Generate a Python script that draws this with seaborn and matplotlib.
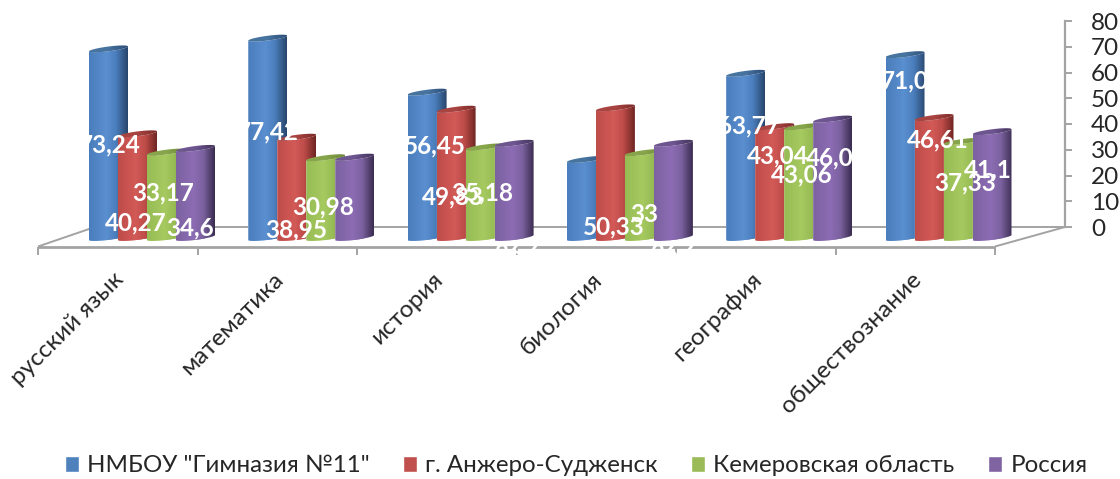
import numpy as np
import pandas as pd
import matplotlib
matplotlib.use("Agg")
import matplotlib.pyplot as plt
from matplotlib.colors import LinearSegmentedColormap
from matplotlib.path import Path
import seaborn as sns

# --- Data ---
subjects = ["русский язык", "математика", "история", "биология", "география", "обществознание"]
series_names = ['НМБОУ "Гимназия №11"', "г. Анжеро-Судженск", "Кемеровская область", "Россия"]
gymnasium = [73.24, 77.42, 56.45, 30.3, 63.77, 71.0]
town = [40.27, 38.95, 49.83, 50.33, 43.04, 46.61]
region = [33.17, 30.98, 35.18, 33, 43.06, 37.33]
russia = [34.6, 31.2, 36.6, 36.6, 46.0, 41.1]

# value labels as they read in the picture, with where the chart left them (px, px)
label_text = ["73,24", "40,27", "33,17", "34,6",
              "77,42", "38,95", "30,98",
              "56,45", "49,83", "35,18", "36,6",
              "50,33", "33", "36,6",
              "63,77", "43,04", "43,06", "46,0",
              "71,0", "46,61", "37,33", "41,1"]
label_xy = [(110, 145), (136, 223), (163, 193), (190, 228),
            (268, 132), (296, 230), (323, 207),
            (435, 146), (453, 197), (482, 193), (518, 254),
            (614, 227), (644, 215), (674, 254),
            (749, 126), (778, 156), (802, 175), (830, 158),
            (905, 81), (938, 140), (965, 183), (988, 170)]

# --- Colours: base, light, dark, cap left, cap right ---
palette = ["#4F81BD", "#C0504D", "#9BBB59", "#8064A2"]
shades = [("#4A7DBB", "#5A8FD0", "#28456B", "#47749F", "#2B4D78"),
          ("#BE4C49", "#D25A57", "#6E2523", "#A94441", "#7D2B29"),
          ("#98BC55", "#A6CA60", "#6F8A3B", "#87A54A", "#6C8838"),
          ("#7C62A0", "#8C6CB4", "#3A2C50", "#6D5590", "#43335C")]

FW, FH = 1120, 479
X_ZERO, X_STEP = 147.0, 159.3     # px of first group, px per group
Y_ZERO, Y_STEP = 240.0, 2.575     # px of bar foot, px per unit
CYL_W, CYL_RISE, CYL_B = 39.0, 5.0, 2.4


def px(x, y):
    return x / FW, 1 - y / FH


sns.set_theme(style="white")
plt.rcParams["font.family"] = ["Lato", "Noto Sans", "DejaVu Sans"]

df = pd.DataFrame({"subject": subjects * 4,
                   "series": np.repeat(series_names, 6),
                   "value": gymnasium + town + region + russia})

fig = plt.figure(figsize=(FW / 100, FH / 100), dpi=100)
ax = fig.add_axes([0, 0, 1, 1])
sns.barplot(data=df, x="subject", y="value", hue="series", order=subjects, hue_order=series_names,
            palette=palette, saturation=1, width=4 * 29 / X_STEP, ax=ax)
ax.set_xlim(-X_ZERO / X_STEP, (FW - X_ZERO) / X_STEP)
ax.set_ylim((Y_ZERO - FH) / Y_STEP, Y_ZERO / Y_STEP)
ax.set_xticks([])
ax.set_yticks([])
ax.set_xlabel("")
ax.set_ylabel("")
ax.patch.set_alpha(0)
sns.despine(ax=ax, left=True, bottom=True)

# --- Floor ---
grey = "#A3A3A3"
floor = [[(38, 246.5), (995, 246.5)], [(38, 246.5), (92, 228)], [(90, 227), (1065, 227)], [(995, 246.5), (1065, 227)]]
for seg, lw in zip(floor, [2.0, 1.4, 1.4, 1.4]):
    xs, ys = zip(*[px(*p) for p in seg])
    ax.plot(xs, ys, color=grey, lw=lw, transform=fig.transFigure, zorder=1, solid_capstyle="butt")


# --- Cylinders, built on the bars that seaborn drew ---
def draw_gradient(path, colors, x0, x1, y0, y1, z):
    cmap = LinearSegmentedColormap.from_list("c", colors)
    im = ax.imshow(np.linspace(0, 1, 200).reshape(1, -1), cmap=cmap, aspect="auto",
                   extent=(x0, x1, y0, y1), interpolation="bilinear", zorder=z)
    im.set_clip_path(path, transform=ax.transData)


t = np.linspace(np.pi, 2 * np.pi, 40)
for s, container in enumerate(ax.containers):
    base, light, dark, cap_l, cap_r = shades[s]
    for bar in container:
        x0 = bar.get_x()
        h = bar.get_height()
        w = CYL_W / X_STEP
        cx = x0 + w / 2
        rise = CYL_RISE / Y_STEP
        b = CYL_B / Y_STEP
        arc_x = cx + w / 2 * np.cos(t)
        slope = rise / 2 * (1 + np.cos(t))
        foot = slope + b * np.sin(t)
        front = h + slope + b * np.sin(t)
        back = h + slope - b * np.sin(t)
        body = Path(np.r_[np.c_[arc_x, foot], np.c_[arc_x[::-1], front[::-1]], [[arc_x[0], foot[0]]]])
        cap = Path(np.r_[np.c_[arc_x, front], np.c_[arc_x[::-1], back[::-1]], [[arc_x[0], front[0]]]])
        z = 2 + s * 0.1
        bar.set_clip_path(body, transform=ax.transData)
        bar.set_zorder(z - 0.01)
        draw_gradient(body, [(0, base), (0.45, light), (0.7, base), (1, dark)],
                      x0, x0 + w, -2, h + 3, z)
        draw_gradient(cap, [(0, cap_l), (0.5, cap_l), (1, cap_r)], x0, x0 + w, h - 2, h + 4, z + 0.01)

ax.set_xlim(-X_ZERO / X_STEP, (FW - X_ZERO) / X_STEP)
ax.set_ylim((Y_ZERO - FH) / Y_STEP, Y_ZERO / Y_STEP)

# --- Legend ---
sns.move_legend(ax, "center", bbox_to_anchor=(576 / FW, 1 - 466 / FH), ncol=4, title=None, frameon=False,
                fontsize=17.4, handlelength=0.6, handleheight=0.6, handletextpad=0.33, columnspacing=1.37)
for txt in ax.get_legend().get_texts():
    txt.set_color("#262626")

# --- Value axis on the back wall ---
ax_y = fig.add_axes([1065 / FW, 1 - 227 / FH, 1 / FW, 206 / FH])
ax_y.set_ylim(0, 80)
ax_y.set_xticks([])
ax_y.set_yticks(range(0, 90, 10))
ax_y.yaxis.tick_right()
ax_y.tick_params(axis="y", length=4, width=1.4, color=grey, labelsize=17.5, labelcolor="#262626", pad=14, right=True)
for name, spine in ax_y.spines.items():
    spine.set_visible(name == "left")
    spine.set_color(grey)
    spine.set_linewidth(1.6)
ax_y.patch.set_alpha(0)

# --- Category axis along the front of the floor ---
ax_x = fig.add_axes([38 / FW, 1 - 246.5 / FH, 957 / FW, 1 / FH])
ax_x.set_xlim(0, 6)
ax_x.set_yticks([])
ax_x.set_xticks(range(7))
ax_x.set_xticklabels([])
ax_x.set_xticks(np.arange(6) + 0.47, minor=True)
ax_x.set_xticklabels(subjects, minor=True, rotation=45, ha="right", va="top", rotation_mode="anchor", fontsize=17.5,
                     color="#262626")
ax_x.tick_params(axis="x", which="major", length=5.5, width=1.4, color=grey, bottom=True)
ax_x.tick_params(axis="x", which="minor", length=0, pad=16, bottom=True)
for spine in ax_x.spines.values():
    spine.set_visible(False)
ax_x.patch.set_alpha(0)

# --- Value labels on top of everything ---
for text, (lx, ly) in zip(label_text, label_xy):
    fx, fy = px(lx, ly)
    fig.text(fx, fy, text, color="white", fontsize=17.5, fontweight="bold", ha="center", va="center", zorder=10)

fig.savefig("out.png", dpi=100)
